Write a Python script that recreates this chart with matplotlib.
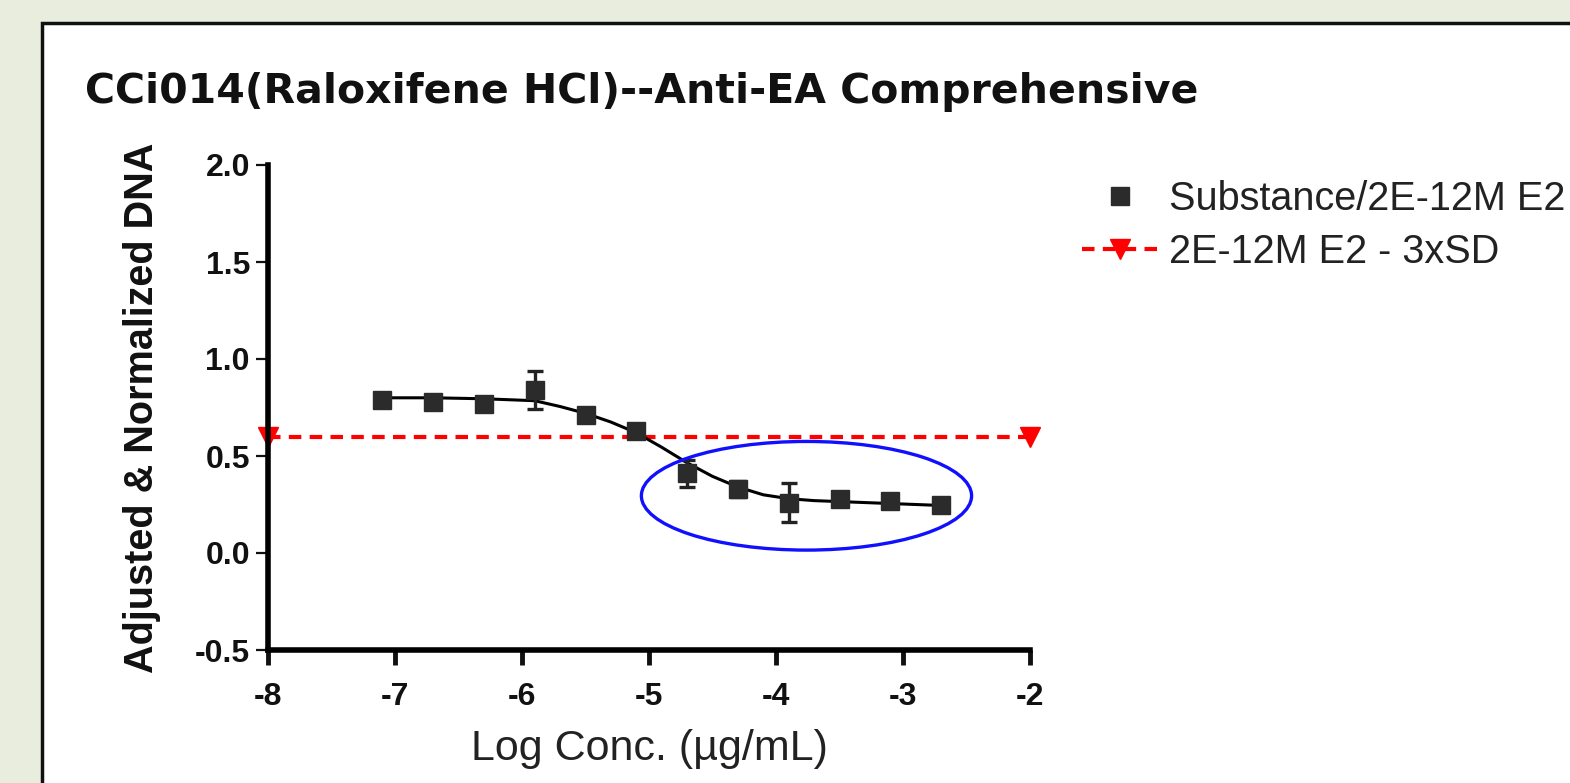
import numpy as np
import matplotlib
matplotlib.use("Agg")
import matplotlib.pyplot as plt
from matplotlib.patches import Rectangle, Ellipse

# measured points (log conc, response, sd)
log_conc = [-7.1, -6.7, -6.3, -5.9, -5.5, -5.1, -4.7, -4.3, -3.9, -3.5, -3.1, -2.7]
response = [0.79, 0.78, 0.77, 0.84, 0.71, 0.63, 0.41, 0.33, 0.26, 0.28, 0.27, 0.25]
resp_err = [0.02, 0.02, 0.02, 0.10, 0.02, 0.03, 0.07, 0.04, 0.10, 0.02, 0.02, 0.02]

# fitted curve
curve_x = [-7.1, -6.7, -6.3, -5.9, -5.7, -5.5, -5.3, -5.1, -4.9, -4.7, -4.5,
           -4.3, -4.1, -3.9, -3.7, -3.5, -3.1, -2.7]
curve_y = [0.80, 0.80, 0.795, 0.785, 0.755, 0.72, 0.675, 0.62, 0.545, 0.465, 0.395,
           0.34, 0.30, 0.28, 0.27, 0.265, 0.255, 0.245]

# threshold line 2E-12M E2 - 3xSD
thresh_x = [-8, -2]
thresh_y = [0.60, 0.60]

x_ticks = [-8, -7, -6, -5, -4, -3, -2]
y_ticks = [-0.5, 0.0, 0.5, 1.0, 1.5, 2.0]

title = "CCi014(Raloxifene HCl)--Anti-EA Comprehensive"
series_labels = ["Substance/2E-12M E2", "2E-12M E2 - 3xSD"]

plt.rcParams['font.family'] = ['Liberation Sans', 'DejaVu Sans']

fig = plt.figure(figsize=(15.70, 7.83), dpi=100)
fig.patch.set_facecolor("#e9eddd")

# white panel with border, runs off the right and bottom edges
panel = Rectangle((42/1570, -0.2), 1.2, 1.2 - 23/783, transform=fig.transFigure,
                  facecolor="white", edgecolor="#111111", linewidth=2.5, zorder=-10)
fig.patches.append(panel)

ax = fig.add_axes([268/1570, 1 - 650/783, (1030 - 268)/1570, (650 - 165)/783])
ax.set_facecolor("none")

ax.plot(curve_x, curve_y, color="black", lw=2.2, zorder=3)
ax.errorbar(log_conc, response, yerr=resp_err, fmt="none", ecolor="#222222",
            elinewidth=2.4, capsize=6, capthick=2.4, zorder=4)
sq, = ax.plot(log_conc, response, ls="none", marker="s", ms=13.5,
              color="#2b2b2b", zorder=5, label=series_labels[0])
red, = ax.plot(thresh_x, thresh_y, color="red", ls=(0, (3, 2)), lw=3,
               marker="v", ms=14, clip_on=False, zorder=2, label=series_labels[1])

# hand drawn highlight
ax.add_patch(Ellipse((-3.76, 0.295), 2.6, 0.56, fill=False, edgecolor="#1010ff",
                     lw=2.4, clip_on=False, zorder=6))

ax.set_xlim(-8, -2)
ax.set_ylim(-0.5, 2.0)
ax.set_xticks(x_ticks)
ax.set_yticks(y_ticks)
ax.set_xticklabels([str(t) for t in x_ticks], fontweight="bold")
ax.set_yticklabels([f"{t:.1f}" for t in y_ticks], fontweight="bold")
for s in ["top", "right"]:
    ax.spines[s].set_visible(False)
for s in ["left", "bottom"]:
    ax.spines[s].set_linewidth(4)
ax.tick_params(axis="x", direction="out", length=11, width=3.5, labelsize=23, pad=12,
               colors="#111111")
ax.tick_params(axis="y", direction="out", length=9, width=1.6, labelsize=23, pad=4,
               colors="#111111")

ax.set_xlabel("Log Conc. (µg/mL)", fontsize=31, labelpad=12, color="#222222")
ax.set_ylabel("Adjusted & Normalized DNA", fontsize=28.5, fontweight="bold",
              labelpad=24, color="#111111")

fig.text(85/1570, 1 - 92/783, title, fontsize=29.5, fontweight="bold", va="center",
         ha="left", family="DejaVu Sans", color="#111111")

ax.legend(handles=[sq, red], loc="upper left", bbox_to_anchor=(1082/1570, 1 - 180/783),
          bbox_transform=fig.transFigure, frameon=False, fontsize=28.5,
          handlelength=1.9, handletextpad=0.3, labelspacing=0.38, markerscale=1,
          borderaxespad=0, borderpad=0, labelcolor="#222222")

fig.savefig("out.png", dpi=100)
